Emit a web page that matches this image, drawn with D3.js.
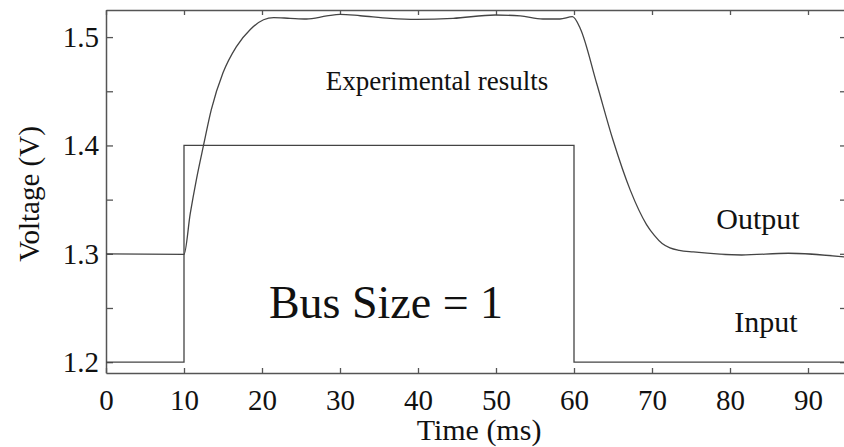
<!DOCTYPE html>
<html>
<head>
<meta charset="utf-8">
<script src="https://cdn.jsdelivr.net/npm/d3@7"></script>
<style>
  html, body { margin: 0; padding: 0; background: #fff; }
  svg { display: block; font-family: "Liberation Serif", "DejaVu Serif", serif; }
</style>
</head>
<body>
<div id="chart"></div>
<script>
const width = 844;
const height = 447;
const margin = { top: 10, right: -3, bottom: 74, left: 106 };

// tick values
const timeTicks = [0, 10, 20, 30, 40, 50, 60, 70, 80, 90];
const voltTicks = [1.2, 1.25, 1.3, 1.35, 1.4, 1.45, 1.5];

// input pulse (step after)
const inputTime = [0, 10, 60, 95];
const inputVolt = [1.2, 1.4, 1.2, 1.2];

// measured output
const outputTime = [0, 10, 10.8, 11.6, 12.5, 13.5, 15.0, 16.7, 18.5, 20.2, 21.5, 23.6, 25.7, 28.3, 30.0, 32.6, 36.4, 39.8, 44.5, 49.9, 53.1, 56.0, 58.2, 59.8, 60.8, 62.9, 65.0, 67.2, 69.3, 70.3, 71.3, 72.3, 73.5, 75.3, 81.5, 87.5, 95];
const outputVolt = [1.3, 1.2995, 1.337, 1.369, 1.4, 1.433, 1.467, 1.491, 1.507, 1.516, 1.518, 1.5173, 1.5167, 1.5195, 1.521, 1.5197, 1.5173, 1.5164, 1.5173, 1.5204, 1.5195, 1.5167, 1.5167, 1.5188, 1.508, 1.4574, 1.405, 1.359, 1.327, 1.317, 1.3095, 1.3055, 1.3032, 1.3017, 1.2989, 1.3005, 1.2968];

const svg = d3
  .select("#chart")
  .append("svg")
  .attr("width", width)
  .attr("height", height);

const xScale = d3
  .scaleLinear()
  .domain([0, 95])
  .range([margin.left, width - margin.right]);

const yScale = d3
  .scaleLinear()
  .domain([1.19, 1.525])
  .range([height - margin.bottom, margin.top]);

const frameColor = "#555";
const lineColor = "#444";

// bottom axis with labels, ticks pointing inward
svg
  .append("g")
  .attr("transform", `translate(0,${yScale(1.19)})`)
  .call(
    d3.axisBottom(xScale).tickValues(timeTicks).tickSizeInner(-5).tickSizeOuter(0).tickPadding(16)
  );

// top axis, ticks only
svg
  .append("g")
  .attr("transform", `translate(0,${yScale(1.525)})`)
  .call(
    d3.axisTop(xScale).tickValues(timeTicks).tickSizeInner(-5).tickSizeOuter(0).tickFormat("")
  );

// left axis with labels on the tenths
svg
  .append("g")
  .attr("transform", `translate(${xScale(0)},0)`)
  .call(
    d3
      .axisLeft(yScale)
      .tickValues(voltTicks)
      .tickSizeInner(-7)
      .tickSizeOuter(0)
      .tickPadding(7)
      .tickFormat((d) => (Math.round(d * 100) % 10 === 0 ? d3.format(".1f")(d) : ""))
  );

// right axis, ticks only
svg
  .append("g")
  .attr("transform", `translate(${xScale(95)},0)`)
  .call(
    d3.axisRight(yScale).tickValues(voltTicks).tickSizeInner(-7).tickSizeOuter(0).tickFormat("")
  );

svg.selectAll(".tick line").attr("stroke", frameColor).attr("stroke-width", 1.3);
svg.selectAll(".domain").attr("stroke", frameColor).attr("stroke-width", 1.5);
svg
  .selectAll(".tick text")
  .attr("font-family", "Liberation Serif")
  .attr("font-size", 29)
  .attr("fill", "#111");

// input pulse
const inputLine = d3
  .line()
  .x((d, i) => xScale(inputTime[i]))
  .y((d) => yScale(d))
  .curve(d3.curveStepAfter);

svg
  .append("path")
  .attr("d", inputLine(inputVolt))
  .attr("fill", "none")
  .attr("stroke", lineColor)
  .attr("stroke-width", 1.3);

// output curve
const outputLine = d3
  .line()
  .x((d, i) => xScale(outputTime[i]))
  .y((d) => yScale(d))
  .curve(d3.curveMonotoneX);

svg
  .append("path")
  .attr("d", outputLine(outputVolt))
  .attr("fill", "none")
  .attr("stroke", lineColor)
  .attr("stroke-width", 1.3);

// annotations
const notes = [
  { text: "Experimental results", x: 437, y: 90, size: 27 },
  { text: "Output", x: 758, y: 229, size: 30 },
  { text: "Input", x: 766, y: 332, size: 30 },
  { text: "Bus Size = 1", x: 386, y: 318, size: 46 },
];

svg
  .selectAll(".note")
  .data(notes)
  .enter()
  .append("text")
  .attr("class", "note")
  .attr("x", (d) => d.x)
  .attr("y", (d) => d.y)
  .attr("text-anchor", "middle")
  .attr("font-size", (d) => d.size)
  .attr("fill", "#111")
  .text((d) => d.text);

// axis titles
svg
  .append("text")
  .attr("x", 479)
  .attr("y", 440)
  .attr("text-anchor", "middle")
  .attr("font-size", 30)
  .attr("fill", "#111")
  .text("Time (ms)");

svg
  .append("text")
  .attr("transform", "rotate(-90)")
  .attr("x", -194)
  .attr("y", 39)
  .attr("text-anchor", "middle")
  .attr("font-size", 29)
  .attr("fill", "#111")
  .text("Voltage (V)");
</script>
</body>
</html>
